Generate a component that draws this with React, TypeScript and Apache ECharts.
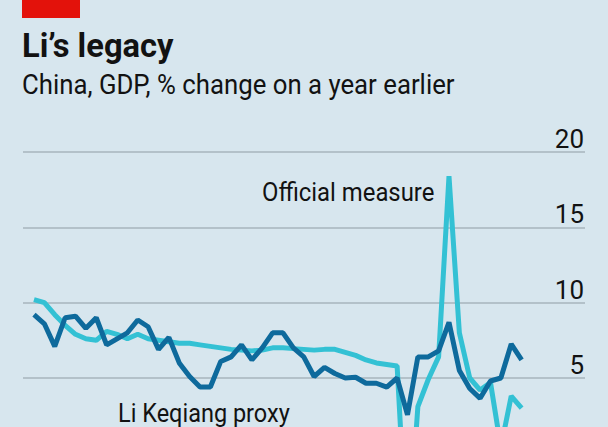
import React, { useEffect, useRef } from "react";
import * as echarts from "echarts";

// Quarterly, 2011Q1 to 2022Q4
const years = [2011, 2012, 2013, 2014, 2015, 2016, 2017, 2018, 2019, 2020, 2021, 2022];
const quarters: string[] = years.flatMap((y) => ["Q1", "Q2", "Q3", "Q4"].map((q) => `${y}${q}`));

// GDP, % change on a year earlier
const officialMeasure = [
  10.2, 10.0, 9.2, 8.5, 7.9, 7.6, 7.5, 8.1, 7.9, 7.6, 7.9, 7.6,
  7.5, 7.4, 7.3, 7.3, 7.2, 7.1, 7.0, 6.9, 6.85, 6.8, 6.85, 7.0,
  7.0, 6.95, 6.9, 6.85, 6.9, 6.9, 6.7, 6.5, 6.2, 6.0, 5.9, 5.8,
  -6.8, 3.1, 4.9, 6.4, 18.4, 8.0, 5.0, 4.2, 4.7, 0.4, 3.8, 3.0,
];
const liKeqiangProxy = [
  9.2, 8.6, 7.1, 9.0, 9.1, 8.3, 9.0, 7.2, 7.6, 8.0, 8.85, 8.4,
  6.9, 7.7, 6.0, 5.1, 4.4, 4.4, 6.1, 6.4, 7.2, 6.2, 7.0, 8.0,
  8.0, 7.0, 6.4, 5.1, 5.7, 5.3, 5.0, 5.05, 4.65, 4.65, 4.4, 5.0,
  2.55, 6.4, 6.4, 6.8, 8.7, 5.5, 4.3, 3.65, 4.8, 5.0, 7.25, 6.2,
];
const yTicks = { min: -10, max: 20, interval: 5 };

const BG = "#d7e6ee";
const TEXT = "#121212";
const GRID = "#a7b4bd";
const PROXY = "#0e6a9c";
const OFFICIAL = "#33c1d4";
const RED = "#e3120b";

export default function App() {
  const ref = useRef<HTMLDivElement>(null);
  useEffect(() => {
    document.body.style.margin = "0";
    const chart = echarts.init(ref.current!, null, { renderer: "svg" });
    chart.setOption({
      animation: false,
      backgroundColor: BG,
      grid: { left: 23, right: 23, top: 152, bottom: 96 },
      xAxis: {
        type: "value",
        min: -1.06,
        max: quarters.length - 1 + 6.11,
        show: false,
      },
      yAxis: {
        type: "value",
        position: "right",
        min: yTicks.min,
        max: yTicks.max,
        interval: yTicks.interval,
        axisLine: { show: false },
        axisTick: { show: false },
        splitLine: { lineStyle: { color: GRID, width: 1.5 } },
        axisLabel: {
          inside: true,
          margin: 1,
          verticalAlign: "bottom",
          fontSize: 26,
          fontFamily: "'Liberation Sans Narrow', Roboto, sans-serif",
          color: TEXT,
          formatter: (v: number) => (v >= 5 ? String(v) : ""),
        },
      },
      series: [
        {
          name: "Official measure",
          type: "line",
          data: officialMeasure.map((v, i) => [i, v]),
          symbol: "none",
          lineStyle: { color: OFFICIAL, width: 5 },
          z: 2,
        },
        {
          name: "Li Keqiang proxy",
          type: "line",
          data: liKeqiangProxy.map((v, i) => [i, v]),
          symbol: "none",
          lineStyle: { color: PROXY, width: 5 },
          z: 3,
        },
      ],
      graphic: [
        { type: "rect", x: 22, y: 0, shape: { width: 58, height: 18 }, style: { fill: RED } },
        {
          type: "text",
          x: 22,
          y: 29,
          scaleX: 0.99,
          style: { text: "Li’s legacy", fill: TEXT, fontFamily: "Roboto", fontWeight: "bold", fontSize: 33, verticalAlign: "top" },
        },
        {
          type: "text",
          x: 22,
          y: 71,
          scaleX: 0.955,
          style: { text: "China, GDP, % change on a year earlier", fill: TEXT, fontFamily: "Roboto", fontSize: 27, verticalAlign: "top" },
        },
        {
          type: "text",
          x: 262,
          y: 180,
          scaleX: 0.955,
          style: { text: "Official measure", fill: TEXT, fontFamily: "Roboto", fontSize: 25, verticalAlign: "top" },
        },
        {
          type: "text",
          x: 118,
          y: 401,
          scaleX: 0.94,
          style: { text: "Li Keqiang proxy", fill: TEXT, fontFamily: "Roboto", fontSize: 25, verticalAlign: "top" },
        },
      ],
    });
    return () => chart.dispose();
  }, []);
  return (
    <div style={{ width: 608, height: 427, overflow: "hidden", background: BG }}>
      <div ref={ref} style={{ width: 608, height: 700 }} />
    </div>
  );
}
